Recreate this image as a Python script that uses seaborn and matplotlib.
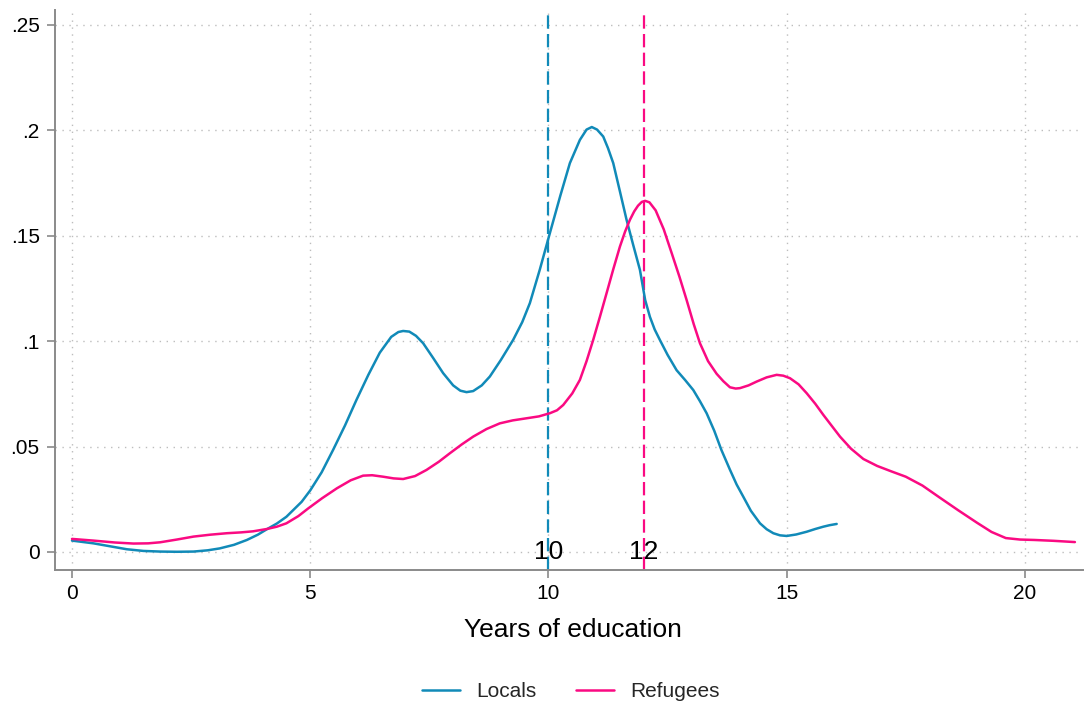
import numpy as np
import pandas as pd
import matplotlib
matplotlib.use("Agg")
import matplotlib.pyplot as plt
import seaborn as sns

# Kernel density estimates of years of education, by group
locals_x = [0.0, 0.45, 0.8, 1.15, 1.5, 1.85, 2.2, 2.55, 2.85, 3.1, 3.4, 3.67, 3.9,
            4.09, 4.3, 4.5, 4.82, 5.0, 5.24, 5.48, 5.73, 5.97, 6.22, 6.46, 6.7,
            6.85, 6.95, 7.08, 7.22, 7.37, 7.58, 7.79, 8.0, 8.15, 8.28, 8.42, 8.6,
            8.77, 9.0, 9.26, 9.45, 9.61, 9.82, 10.03, 10.25, 10.45, 10.66, 10.8,
            10.91, 11.02, 11.15, 11.25, 11.36, 11.5, 11.64, 11.78, 11.92, 12.03,
            12.13, 12.23, 12.34, 12.5, 12.69, 12.87, 13.04, 13.18, 13.32, 13.48,
            13.63, 13.81, 13.95, 14.09, 14.25, 14.44, 14.58, 14.72, 14.86, 15.0,
            15.2, 15.42, 15.6, 15.77, 15.9, 16.05]
locals_y = [0.0054, 0.0041, 0.0027, 0.0013, 0.0005, 0.0002, 0.0001, 0.0002, 0.0008,
            0.0017, 0.0034, 0.0057, 0.0082, 0.0108, 0.0135, 0.0167, 0.0238, 0.0292,
            0.0378, 0.0484, 0.060, 0.0721, 0.084, 0.0945, 0.1020, 0.1043, 0.1048,
            0.1045, 0.1025, 0.099, 0.092, 0.0848, 0.079, 0.0765, 0.0758, 0.0763,
            0.079, 0.0832, 0.091, 0.1006, 0.109, 0.118, 0.134, 0.1512, 0.169,
            0.1844, 0.1954, 0.2003, 0.2015, 0.2003, 0.197, 0.1915, 0.1844, 0.171,
            0.1575, 0.1455, 0.1338, 0.1195, 0.1115, 0.1055, 0.1005, 0.0935, 0.0862,
            0.0815, 0.0768, 0.0715, 0.0658, 0.0575, 0.0484, 0.039, 0.032, 0.0262,
            0.0195, 0.0136, 0.0108, 0.0089, 0.0079, 0.0076, 0.0083, 0.0096, 0.0109,
            0.012, 0.0127, 0.0133]

refugees_x = [0.0, 0.45, 0.9, 1.29, 1.6, 1.85, 2.2, 2.55, 2.9, 3.25, 3.55, 3.8, 4.09,
              4.3, 4.5, 4.75, 4.96, 5.25, 5.56, 5.85, 6.11, 6.3, 6.53, 6.75, 6.95,
              7.2, 7.44, 7.7, 7.93, 8.18, 8.42, 8.7, 8.98, 9.25, 9.54, 9.8, 10.03,
              10.18, 10.31, 10.5, 10.66, 10.8, 10.94, 11.08, 11.22, 11.36, 11.5,
              11.61, 11.71, 11.8, 11.88, 11.96, 12.03, 12.12, 12.25, 12.42, 12.59,
              12.75, 12.9, 13.05, 13.18, 13.35, 13.53, 13.67, 13.81, 13.93, 14.02,
              14.2, 14.37, 14.58, 14.79, 14.93, 15.07, 15.25, 15.42, 15.6, 15.77,
              15.95, 16.12, 16.35, 16.61, 16.9, 17.2, 17.5, 17.85, 18.2, 18.6, 19.0,
              19.3, 19.6, 19.9, 20.2, 20.6, 21.05]
refugees_y = [0.0062, 0.0054, 0.0045, 0.004, 0.0041, 0.0046, 0.0059, 0.0073, 0.0082,
              0.0089, 0.0093, 0.0098, 0.0109, 0.012, 0.0136, 0.017, 0.0207, 0.0255,
              0.0302, 0.034, 0.0362, 0.0364, 0.0357, 0.0349, 0.0346, 0.036, 0.0389,
              0.0428, 0.0468, 0.051, 0.0547, 0.0583, 0.061, 0.0624, 0.0634, 0.0643,
              0.0658, 0.0672, 0.0697, 0.0752, 0.0816, 0.0905, 0.1006, 0.1115,
              0.1227, 0.134, 0.1448, 0.152, 0.1575, 0.1615, 0.1642, 0.166, 0.1665,
              0.1658, 0.162, 0.153, 0.1415, 0.1305, 0.1195, 0.108, 0.099, 0.0905,
              0.0845, 0.081, 0.0781, 0.0775, 0.0777, 0.079, 0.0808, 0.0828, 0.084,
              0.0836, 0.0824, 0.0795, 0.0753, 0.0703, 0.065, 0.0597, 0.0547, 0.049,
              0.0441, 0.0408, 0.0382, 0.0357, 0.0315, 0.026, 0.0198, 0.0138, 0.0095,
              0.0066, 0.0059, 0.0057, 0.0053, 0.0047]

groups = ["Locals", "Refugees"]
group_marks = [10, 12]          # reference value drawn as a dashed line per group
colors = ["#118ab8", "#fa0a82"]

x_ticks = [0, 5, 10, 15, 20]
y_ticks = [0, 0.05, 0.10, 0.15, 0.20, 0.25]
y_tick_labels = ["0", ".05", ".1", ".15", ".2", ".25"]

df = pd.concat([
    pd.DataFrame({"years": locals_x, "density": locals_y, "group": groups[0]}),
    pd.DataFrame({"years": refugees_x, "density": refugees_y, "group": groups[1]}),
], ignore_index=True)

sns.set_theme(style="white")
plt.rcParams["font.family"] = ["Liberation Sans", "DejaVu Sans"]

fig = plt.figure(figsize=(10.88, 7.11), dpi=100)
ax = fig.add_axes([55 / 1088, 1 - 570 / 711, 1028 / 1088, 560 / 711])

palette = dict(zip(groups, colors))
sns.lineplot(data=df, x="years", y="density", hue="group", palette=palette,
             linewidth=1.8, sort=False, estimator=None, ax=ax, legend=False)

# dashed reference lines with labels at the baseline
for val, col in zip(group_marks, colors):
    ax.axvline(val, color=col, linewidth=1.6, dashes=(6, 2.4), zorder=1)
    ax.text(val, 0, str(val), ha="center", va="center", fontsize=19,
            color="black", zorder=4)

ax.set_xlim(-0.357, 21.22)
ax.set_ylim(-0.00854, 0.257)
ax.set_xticks(x_ticks)
ax.set_xticklabels([str(t) for t in x_ticks])
ax.set_yticks(y_ticks)
ax.set_yticklabels(y_tick_labels)

ax.grid(True, which="major", color="#bdbdbd", linestyle=(0, (1, 4)), linewidth=1.0)
ax.set_axisbelow(True)

for side in ["top", "right"]:
    ax.spines[side].set_visible(False)
for side in ["left", "bottom"]:
    ax.spines[side].set_color("#8a8a8a")
    ax.spines[side].set_linewidth(1.4)

ax.tick_params(axis="both", which="major", direction="out", length=6, width=1.2,
               color="#8a8a8a", labelsize=15, labelcolor="black",
               bottom=True, left=True)
ax.tick_params(axis="x", pad=4)
ax.tick_params(axis="y", pad=5)

ax.set_ylabel("")
ax.set_xlabel("Years of education", fontsize=19, color="black")
ax.xaxis.set_label_coords((573 - 55) / 1028, -0.085)

handles = [plt.Line2D([], [], color=c, linewidth=1.8) for c in colors]
fig.legend(handles, groups, loc="center", bbox_to_anchor=(0.525, 0.027),
           ncol=2, frameon=False, fontsize=15, handlelength=1.8,
           handletextpad=0.8, columnspacing=1.9)

fig.savefig("out.png", dpi=100, facecolor="white")
